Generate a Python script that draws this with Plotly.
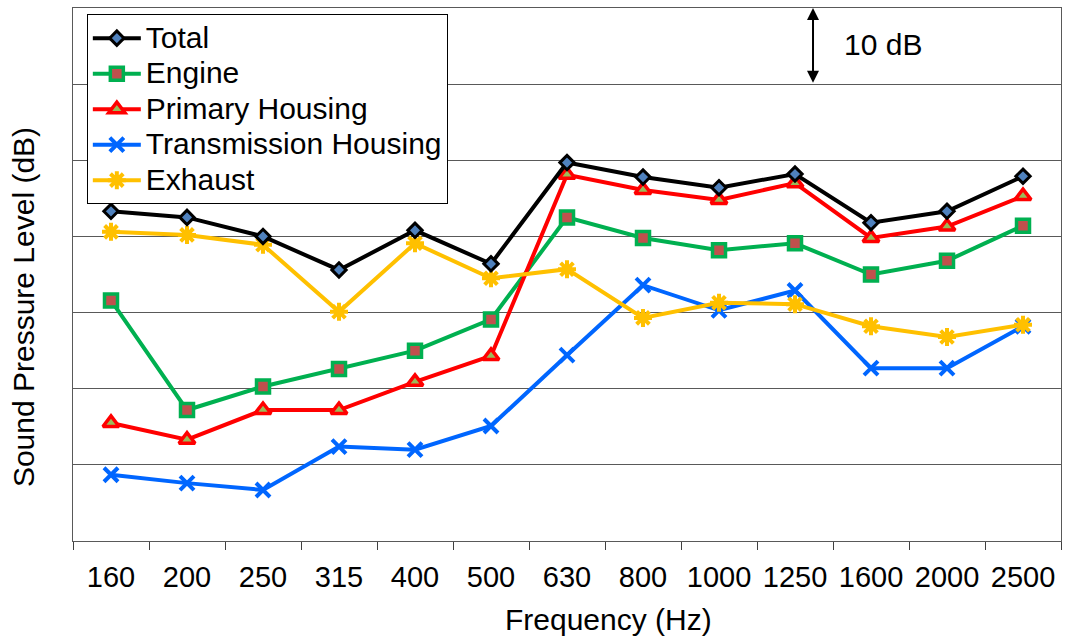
import plotly.graph_objects as go

# One-third octave band centre frequencies
bands = ["160", "200", "250", "315", "400", "500", "630",
         "800", "1000", "1250", "1600", "2000", "2500"]

# Band sound pressure levels (dB, relative scale)
total = [43.3, 42.5, 40.0, 35.6, 40.8, 36.4, 49.7, 47.8, 46.4, 48.2, 41.8, 43.3, 47.9]
engine = [31.6, 17.2, 20.3, 22.6, 25.0, 29.1, 42.5, 39.8, 38.2, 39.1, 35.0, 36.8, 41.4]
primary_housing = [15.5, 13.3, 17.2, 17.2, 20.9, 24.3, 48.1, 46.1, 44.8, 47.0, 39.8, 41.3, 45.3]
transmission_housing = [8.7, 7.6, 6.7, 12.4, 12.0, 15.1, 24.4, 33.6, 30.3, 32.9, 22.7, 22.7, 28.2]
exhaust = [40.6, 40.2, 38.9, 30.1, 39.1, 34.5, 35.7, 29.3, 31.3, 31.1, 28.2, 26.8, 28.4]

FONT = "Liberation Sans, Arial, sans-serif"
TEXT_SIZE = 30
LINE_W = 4


def legend_name(name):
    # larger glyphs than the legend's row pitch font
    return f'<span style="font-size:{TEXT_SIZE}px">{name}</span>'


fig = go.Figure()

fig.add_trace(go.Scatter(
    x=bands, y=engine, name=legend_name("Engine"), mode="lines+markers", legendrank=2,
    line=dict(color="#00B050", width=LINE_W),
    marker=dict(symbol="square", size=13, color="#C0504D",
                line=dict(color="#00B050", width=3.5)),
))
fig.add_trace(go.Scatter(
    x=bands, y=primary_housing, name=legend_name("Primary Housing"), mode="lines+markers",
    legendrank=3,
    line=dict(color="#FF0000", width=LINE_W),
    marker=dict(symbol="triangle-up", size=14, color="#9BBB59",
                line=dict(color="#FF0000", width=3.5)),
))
fig.add_trace(go.Scatter(
    x=bands, y=transmission_housing, name=legend_name("Transmission Housing"),
    mode="lines+markers", legendrank=4,
    line=dict(color="#0066FF", width=LINE_W),
    marker=dict(symbol="x-thin-open", size=14, color="#0066FF",
                line=dict(color="#0066FF", width=4)),
))
fig.add_trace(go.Scatter(
    x=bands, y=exhaust, name=legend_name("Exhaust"), mode="lines+markers", legendrank=5,
    line=dict(color="#FFC000", width=LINE_W),
    marker=dict(symbol="asterisk-open", size=15, color="#FFC000",
                line=dict(color="#FFC000", width=4)),
))
fig.add_trace(go.Scatter(
    x=bands, y=total, name=legend_name("Total"), mode="lines+markers", legendrank=1,
    line=dict(color="#000000", width=LINE_W),
    marker=dict(symbol="diamond", size=11, color="#4F81BD",
                line=dict(color="#000000", width=3)),
))

# 10 dB scale bar
fig.add_annotation(
    x=0.749, xref="paper", y=70, yref="y",
    ax=0, axref="pixel", ay=60, ayref="y",
    text="", showarrow=True, arrowhead=2, arrowside="end+start",
    arrowsize=1.2, arrowwidth=2, arrowcolor="#000000",
)
fig.add_annotation(
    x=0.7785, xref="paper", y=65.2, yref="y", xanchor="left", yanchor="middle",
    text="10 dB", showarrow=False, font=dict(family=FONT, size=TEXT_SIZE, color="#000000"),
)

# Axis titles
fig.add_annotation(
    x=0.5425, xref="paper", y=-0.148, yref="paper", xanchor="center", yanchor="middle",
    text="Frequency (Hz)", showarrow=False,
    font=dict(family=FONT, size=TEXT_SIZE, color="#000000"),
)
fig.add_annotation(
    x=-0.0505, xref="paper", y=0.439, yref="paper", xanchor="center", yanchor="middle",
    text="Sound Pressure Level (dB)", textangle=-90, showarrow=False,
    font=dict(family=FONT, size=TEXT_SIZE, color="#000000"),
)

fig.update_layout(
    width=1065, height=637,
    margin=dict(l=73, r=4, t=8, b=96),
    paper_bgcolor="white", plot_bgcolor="white",
    font=dict(family=FONT, size=TEXT_SIZE, color="#000000"),
    showlegend=True,
    legend=dict(
        x=0.014, y=0.988, xanchor="left", yanchor="top",
        bgcolor="white", bordercolor="#000000", borderwidth=1,
        font=dict(family=FONT, size=25, color="#000000"),
        tracegroupgap=0, itemwidth=48,
    ),
    xaxis=dict(
        type="category", tickson="boundaries", ticks="outside", ticklen=8,
        tickcolor="#404040", tickwidth=1, showgrid=False,
        showline=True, linecolor="#595959", linewidth=1, mirror=True,
        range=[-0.5, 12.5], tickfont=dict(family=FONT, size=29),
        ticklabelstandoff=10,
    ),
    yaxis=dict(
        range=[0, 70], dtick=10, showticklabels=False, ticks="",
        showgrid=True, gridcolor="#595959", gridwidth=1, zeroline=False,
        showline=True, linecolor="#595959", linewidth=1, mirror=True,
    ),
)

fig.write_html("out.html")
